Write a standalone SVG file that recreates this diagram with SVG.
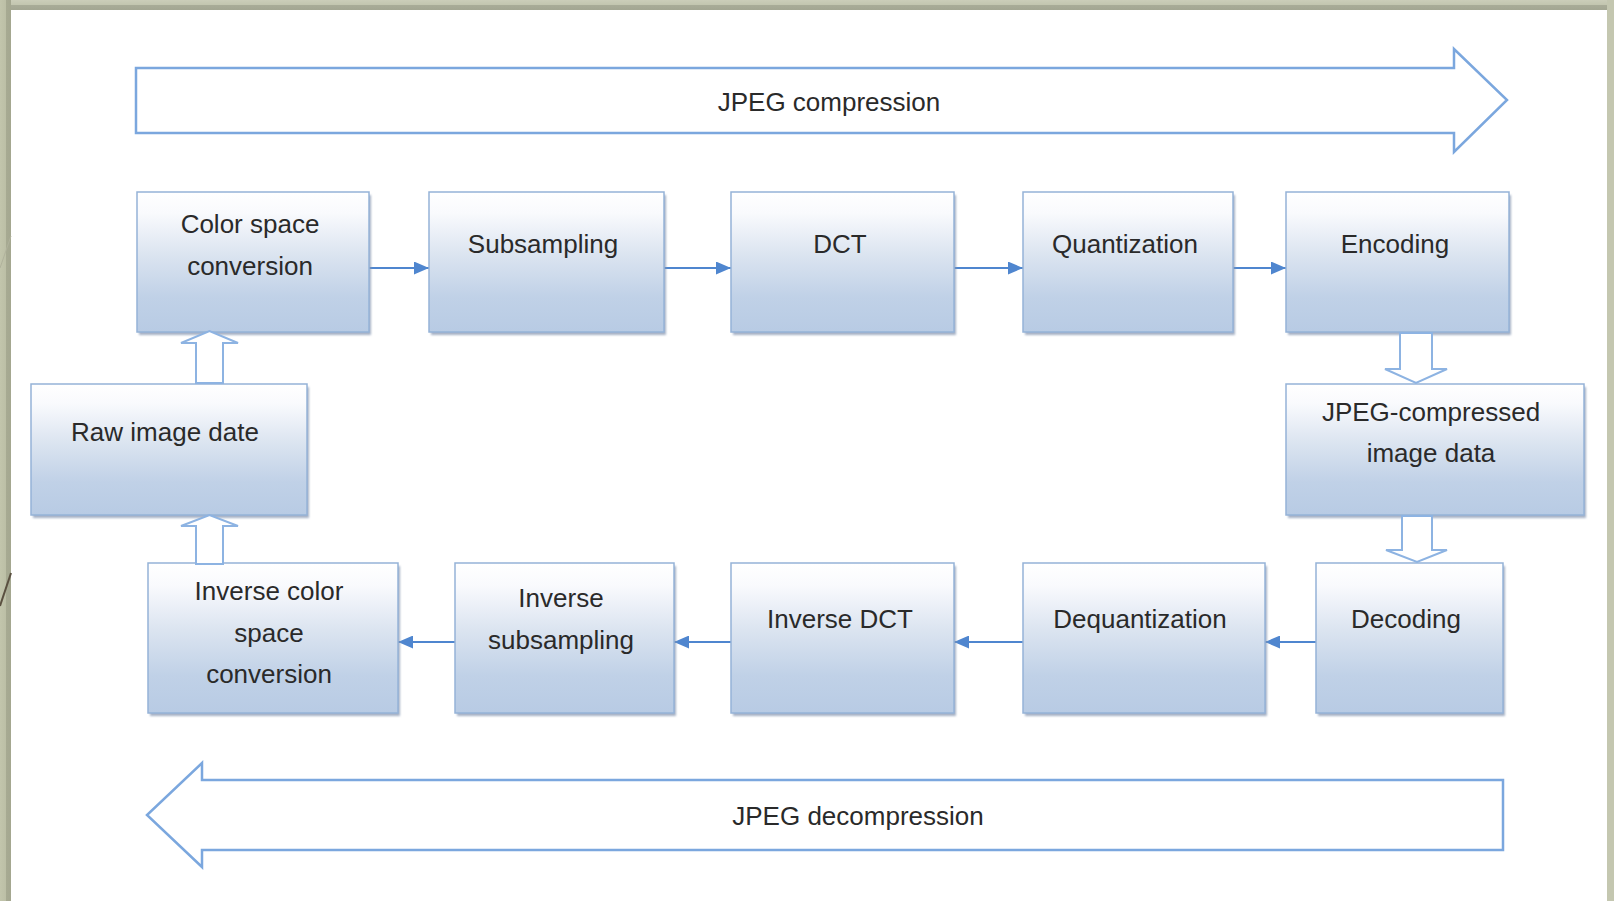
<svg xmlns="http://www.w3.org/2000/svg" width="1614" height="901" viewBox="0 0 1614 901">
<style>
.box{fill:url(#boxGrad);stroke:#95b3d7;stroke-width:1.5}
.shadow{fill:#8898b2;opacity:0.75}
.lbl{font-family:"Liberation Sans",Arial,sans-serif;font-size:26px;fill:#2a2a2a;text-anchor:middle}
.conn{stroke:#4f86cf;stroke-width:2;fill:none;marker-end:url(#arr)}
.big{fill:#ffffff;stroke:#7ba7de;stroke-width:2.5;stroke-linejoin:miter}
.hollow{fill:#ffffff;stroke:#8db3e2;stroke-width:2}
</style>
<defs>
<linearGradient id="boxGrad" x1="0" y1="0" x2="0" y2="1">
<stop offset="0" stop-color="#ffffff"/>
<stop offset="0.15" stop-color="#f9fafd"/>
<stop offset="0.45" stop-color="#dbe4f0"/>
<stop offset="0.75" stop-color="#c0d1e7"/>
<stop offset="1" stop-color="#b8cbe4"/>
</linearGradient>
<linearGradient id="topBand" x1="0" y1="0" x2="0" y2="1">
<stop offset="0" stop-color="#cbcdb9"/>
<stop offset="0.45" stop-color="#c3c6b0"/>
<stop offset="0.55" stop-color="#a8ab97"/>
<stop offset="1" stop-color="#a3a692"/>
</linearGradient>
<linearGradient id="leftBand" x1="0" y1="0" x2="1" y2="0">
<stop offset="0" stop-color="#c2c5ac"/>
<stop offset="0.5" stop-color="#bcbfa6"/>
<stop offset="0.55" stop-color="#a7aa92"/>
<stop offset="1" stop-color="#a4a790"/>
</linearGradient>
<filter id="blur" x="-5%" y="-5%" width="110%" height="115%">
<feGaussianBlur stdDeviation="1"/>
</filter>
<marker id="arr" viewBox="0 0 15 13" refX="15" refY="6.5" markerWidth="15" markerHeight="13" markerUnits="userSpaceOnUse" orient="auto">
<path d="M0,0 L15,6.5 L0,13 Z" fill="#4f86cf"/>
</marker>
</defs>

<!-- frame -->
<g id="frame">
<rect x="0" y="0" width="1614" height="901" fill="#c3c6af"/>
<rect x="0" y="0" width="1614" height="10" fill="url(#topBand)"/>
<rect x="0" y="0" width="11" height="901" fill="url(#leftBand)"/>
<rect x="1607" y="0" width="7" height="901" fill="#c4c7b0"/>
<rect x="11" y="10" width="1596" height="891" fill="#ffffff"/>
<line x1="0" y1="606" x2="11" y2="573" stroke="#5a5040" stroke-width="2"/>
<line x1="0" y1="268" x2="11" y2="236" stroke="#b0b29c" stroke-width="1"/>
</g>

<!-- big process arrows -->
<g id="jpeg-compression">
<path class="big" d="M136,68 H1454 V49 L1507,100 L1454,152 V133 H136 Z"/>
<text class="lbl" x="829" y="111" font-size="24">JPEG compression</text>
</g>
<g id="jpeg-decompression">
<path class="big" d="M1503,780 H202 V763 L147,815 L202,867 V850 H1503 Z"/>
<text class="lbl" x="858" y="825" font-size="24">JPEG decompression</text>
</g>

<!-- connectors -->
<g id="connectors">
<line class="conn" x1="369" y1="268" x2="429" y2="268"/>
<line class="conn" x1="664" y1="268" x2="731" y2="268"/>
<line class="conn" x1="954" y1="268" x2="1023" y2="268"/>
<line class="conn" x1="1233" y1="268" x2="1286" y2="268"/>
<line class="conn" x1="1316" y1="642" x2="1265" y2="642"/>
<line class="conn" x1="1023" y1="642" x2="954" y2="642"/>
<line class="conn" x1="731" y1="642" x2="674" y2="642"/>
<line class="conn" x1="455" y1="642" x2="398" y2="642"/>
</g>

<!-- nodes -->
<g id="color-space-conversion">
<rect class="shadow" x="139" y="195" width="232" height="140" filter="url(#blur)"/>
<rect class="box" x="137" y="192" width="232" height="140"/>
<text class="lbl" x="250" y="233">Color space</text>
<text class="lbl" x="250" y="275">conversion</text>
</g>
<g id="subsampling">
<rect class="shadow" x="431" y="195" width="235" height="140" filter="url(#blur)"/>
<rect class="box" x="429" y="192" width="235" height="140"/>
<text class="lbl" x="543" y="253">Subsampling</text>
</g>
<g id="dct">
<rect class="shadow" x="733" y="195" width="223" height="140" filter="url(#blur)"/>
<rect class="box" x="731" y="192" width="223" height="140"/>
<text class="lbl" x="840" y="253">DCT</text>
</g>
<g id="quantization">
<rect class="shadow" x="1025" y="195" width="210" height="140" filter="url(#blur)"/>
<rect class="box" x="1023" y="192" width="210" height="140"/>
<text class="lbl" x="1125" y="253">Quantization</text>
</g>
<g id="encoding">
<rect class="shadow" x="1288" y="195" width="223" height="140" filter="url(#blur)"/>
<rect class="box" x="1286" y="192" width="223" height="140"/>
<text class="lbl" x="1395" y="253">Encoding</text>
</g>
<g id="raw-image-date">
<rect class="shadow" x="33" y="387" width="276" height="131" filter="url(#blur)"/>
<rect class="box" x="31" y="384" width="276" height="131"/>
<text class="lbl" x="165" y="441">Raw image date</text>
</g>
<g id="jpeg-compressed-image-data">
<rect class="shadow" x="1288" y="387" width="298" height="131" filter="url(#blur)"/>
<rect class="box" x="1286" y="384" width="298" height="131"/>
<text class="lbl" x="1431" y="421">JPEG-compressed</text>
<text class="lbl" x="1431" y="462">image data</text>
</g>
<g id="inverse-color-space-conversion">
<rect class="shadow" x="150" y="566" width="250" height="150" filter="url(#blur)"/>
<rect class="box" x="148" y="563" width="250" height="150"/>
<text class="lbl" x="269" y="600">Inverse color</text>
<text class="lbl" x="269" y="642">space</text>
<text class="lbl" x="269" y="683">conversion</text>
</g>
<g id="inverse-subsampling">
<rect class="shadow" x="457" y="566" width="219" height="150" filter="url(#blur)"/>
<rect class="box" x="455" y="563" width="219" height="150"/>
<text class="lbl" x="561" y="607">Inverse</text>
<text class="lbl" x="561" y="649">subsampling</text>
</g>
<g id="inverse-dct">
<rect class="shadow" x="733" y="566" width="223" height="150" filter="url(#blur)"/>
<rect class="box" x="731" y="563" width="223" height="150"/>
<text class="lbl" x="840" y="628">Inverse DCT</text>
</g>
<g id="dequantization">
<rect class="shadow" x="1025" y="566" width="242" height="150" filter="url(#blur)"/>
<rect class="box" x="1023" y="563" width="242" height="150"/>
<text class="lbl" x="1140" y="628">Dequantization</text>
</g>
<g id="decoding">
<rect class="shadow" x="1318" y="566" width="187" height="150" filter="url(#blur)"/>
<rect class="box" x="1316" y="563" width="187" height="150"/>
<text class="lbl" x="1406" y="628">Decoding</text>
</g>

<!-- hollow block arrows between stages -->
<g id="block-arrows">
<path class="hollow" d="M196,383 V343 H181 L209.5,331 L238,343 H223 V383 Z"/>
<path class="hollow" d="M196,564 V526 H181 L209.5,515 L238,526 H223 V564 Z"/>
<path class="hollow" d="M1400,333 V369 H1385 L1416,383 L1447,369 H1432 V333 Z"/>
<path class="hollow" d="M1402,516 V550 H1386 L1417,562 L1447,550 H1432 V516 Z"/>
</g>
</svg>
